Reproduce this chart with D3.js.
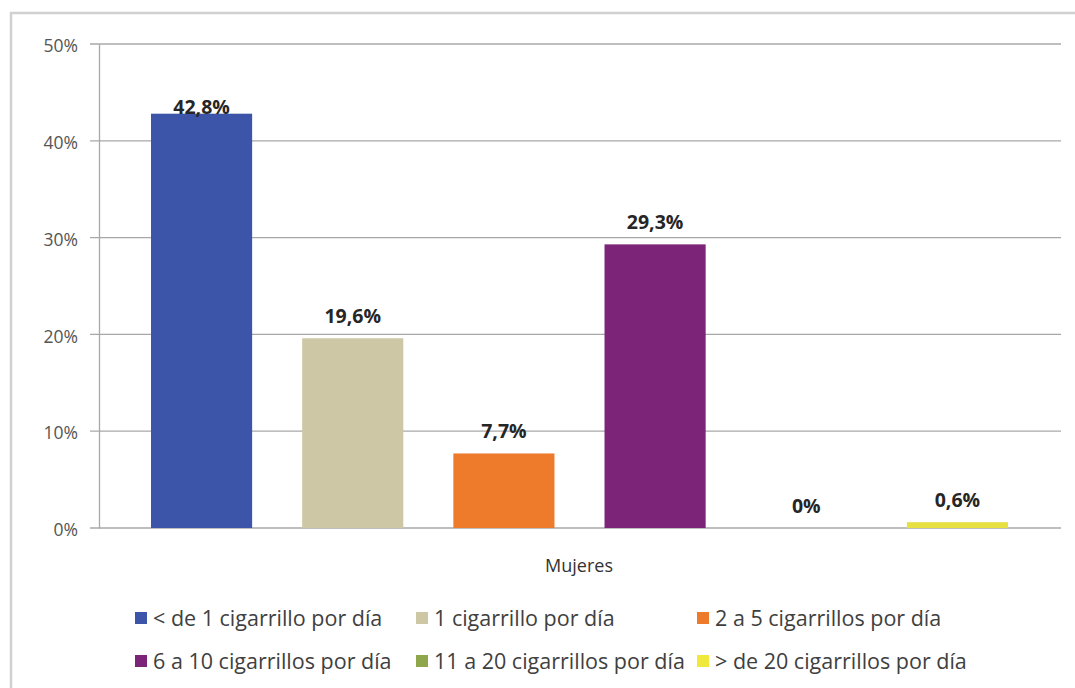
<!DOCTYPE html>
<html><head><meta charset="utf-8">
<script src="https://cdn.jsdelivr.net/npm/d3@7/dist/d3.min.js"></script>
<style>body{margin:0;background:#fff}svg{display:block}</style>
</head><body>
<svg id="c" width="1075" height="688"></svg>
<script>
const categories = ["Mujeres"];
const series = ["< de 1 cigarrillo por día","1 cigarrillo por día","2 a 5 cigarrillos por día","6 a 10 cigarrillos por día","11 a 20 cigarrillos por día","> de 20 cigarrillos por día"];
const values = [42.8, 19.6, 7.7, 29.3, 0, 0.6];
const valueLabels = ["42,8%","19,6%","7,7%","29,3%","0%","0,6%"];
const yTicks = [0,10,20,30,40,50];
const colors = ["#3D55A8","#CDC7A6","#EE7A2B","#7C2478","#8FA64B","#E6E040"];
const legendColors = ["#3D55A8","#CDC7A6","#EE7A2B","#7C2478","#8FA64B","#F0E83A"];

const svg = d3.select("#c");
const font = "'Open Sans', sans-serif";
// outer frame
svg.append("rect").attr("x",11).attr("y",13).attr("width",1075).attr("height",690)
  .attr("fill","none").attr("stroke","#d0d0d0").attr("stroke-width",2.5);

const y = d3.scaleLinear().domain([0,50]).range([528,44]);
const x0 = d3.scaleBand().domain(categories).range([99,1060]);
const x1 = d3.scaleBand().domain(series).range([151,1008]).paddingInner(0.331).paddingOuter(0);

// gridlines
svg.append("g").selectAll("line").data(yTicks).join("line")
  .attr("x1",90).attr("x2",1061).attr("y1",d=>y(d)).attr("y2",d=>y(d))
  .attr("stroke","#a8a8a8").attr("stroke-width",1.3);
// y axis
const yAxis = d3.axisLeft(y).tickValues(yTicks).tickFormat(d=>d+"%").tickSize(0).tickPadding(21);
const ga = svg.append("g").attr("transform","translate(99,0)").call(yAxis);
ga.select(".domain").attr("stroke","#a8a8a8").attr("stroke-width",1.3);
ga.selectAll("text").attr("font-family",font).attr("font-size",17.5).attr("fill","#555").attr("dy","0.72em")
  .attr("y",-5);

// bars
const g = svg.append("g");
g.selectAll("rect").data(series).join("rect")
  .attr("x",d=>x1(d)).attr("width",x1.bandwidth())
  .attr("y",(d,i)=>y(values[i])).attr("height",(d,i)=>y(0)-y(values[i]))
  .attr("fill",(d,i)=>colors[i]);
g.selectAll("text").data(series).join("text")
  .attr("x",d=>x1(d)+x1.bandwidth()/2)
  .attr("y",(d,i)=>y(values[i]) - (values[i]>40 ? 7 : 22))
  .attr("dy","0.35em").attr("text-anchor","middle")
  .attr("font-family",font).attr("font-weight","bold").attr("font-size",19.5).attr("fill","#262626")
  .text((d,i)=>valueLabels[i]);

// category label
svg.append("text").attr("x",x0("Mujeres")+x0.bandwidth()/2-0.5).attr("y",566).attr("dy","0.35em")
  .attr("text-anchor","middle").attr("font-family",font).attr("font-size",18).attr("fill","#333")
  .text(categories[0]);

// legend
const colX = [135,416,697];
const rowY = [619,662];
const lg = svg.append("g").selectAll("g").data(series).join("g")
  .attr("transform",(d,i)=>`translate(${colX[i%3]},${rowY[Math.floor(i/3)]})`);
lg.append("rect").attr("x",0).attr("y",-7).attr("width",12).attr("height",12).attr("fill",(d,i)=>legendColors[i]);
lg.append("text").attr("x",18).attr("dy","0.33em").attr("font-family",font).attr("font-size",21.5).attr("fill","#404040")
  .text(d=>d);
</script>
</body></html>
